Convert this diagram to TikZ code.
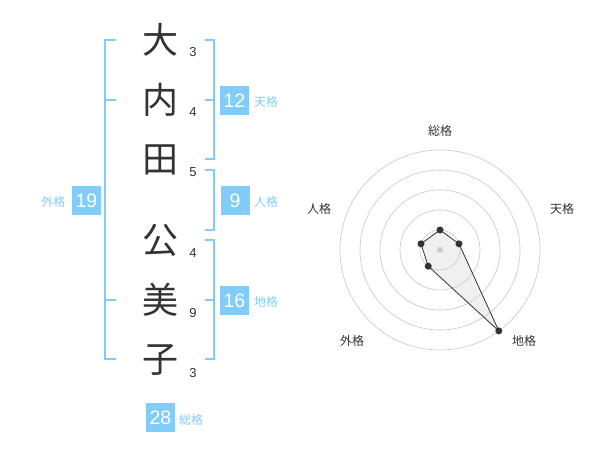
\documentclass[tikz,border=0pt]{standalone}
\usepackage{fontspec}
\setmainfont{Liberation Sans}
\newfontfamily\jpfont{Noto Sans CJK JP}
\definecolor{kblue}{RGB}{130,204,250}
\definecolor{kdark}{RGB}{51,51,51}
\definecolor{kgrid}{RGB}{204,204,204}
\begin{document}
\begin{tikzpicture}[x=1pt,y=-1pt,
  bigchar/.style={font=\jpfont\fontsize{36}{36}\selectfont, text=kdark, inner sep=0},
  stroke/.style={font=\fontsize{13}{13}\selectfont, text=kdark, inner sep=0},
  kbox/.style={fill=kblue, text=white, minimum width=29pt, minimum height=29pt, inner sep=0, font=\fontsize{19.5}{19.5}\selectfont},
  klabel/.style={text=kblue, inner sep=0, font=\jpfont\fontsize{12}{12}\selectfont},
  rlabel/.style={text=kdark, inner sep=0, font=\jpfont\fontsize{12}{12}\selectfont},
  brk/.style={draw=kblue, line width=2pt},
  ring/.style={draw=kgrid, line width=0.7pt},
  pt/.style={circle, fill=kdark, inner sep=0, minimum size=7pt}
]
\useasboundingbox (0,0) rectangle (600,470);
% name characters
\node[bigchar] (c1) at (160,40) {大};
\node[bigchar] (c2) at (160,100) {内};
\node[bigchar] (c3) at (160,160) {田};
\node[bigchar] (c4) at (160,240) {公};
\node[bigchar] (c5) at (160,300) {美};
\node[bigchar] (c6) at (160,360) {子};
% stroke counts
\node[stroke] (n1) at (193,52.5) {3};
\node[stroke] (n2) at (193,112) {4};
\node[stroke] (n3) at (193,172) {5};
\node[stroke] (n4) at (193,253) {4};
\node[stroke] (n5) at (193,313) {9};
\node[stroke] (n6) at (193,373) {3};
% brackets
\draw[brk] (116,40) -- (105,40) -- (105,359) -- (116,359);
\draw[brk] (105,100) -- (116,100);
\draw[brk] (105,300) -- (116,300);
\draw[brk] (205,40) -- (214,40) -- (214,159) -- (205,159);
\draw[brk] (214,100) -- (205,100);
\draw[brk] (205,170) -- (214,170) -- (214,230) -- (205,230);
\draw[brk] (205,240) -- (214,240) -- (214,359) -- (205,359);
\draw[brk] (214,300) -- (205,300);
% boxes and labels
\node[kbox] (b12) at (234.5,100.2) {12};
\node[klabel] (l12) at (266,102) {天格};
\node[kbox] (b9) at (235,200.5) {9};
\node[klabel] (l9) at (266,202) {人格};
\node[kbox] (b16) at (234.5,300.3) {16};
\node[klabel] (l16) at (266,302) {地格};
\node[kbox] (b19) at (86.5,200.5) {19};
\node[klabel] (l19) at (53.5,202) {外格};
\node[kbox] (b28) at (160.5,417.5) {28};
\node[klabel] (l28) at (191,419.5) {総格};
% radar chart
\coordinate (o) at (440,250);
\foreach \r in {20,40,60,80,100} \draw[ring] (o) circle[radius=\r];
\coordinate (p1) at (440,230);
\coordinate (p2) at (459,243.8);
\coordinate (p3) at (498.8,330.9);
\coordinate (p4) at (428.2,266.2);
\coordinate (p5) at (421,243.8);
\fill[kgrid, opacity=0.3] (p1) -- (p2) -- (p3) -- (p4) -- (p5) -- cycle;
\draw[kdark, line width=0.8pt, line join=round] (p1) -- (p2) -- (p3) -- (p4) -- (p5) -- cycle;
\fill[kgrid] (o) circle[radius=3.2];
\foreach \p in {p1,p2,p3,p4,p5} \node[pt] at (\p) {};
\node[rlabel] (r1) at (440,131) {総格};
\node[rlabel] (r2) at (562,209) {天格};
\node[rlabel] (r3) at (524,341) {地格};
\node[rlabel] (r4) at (352,341) {外格};
\node[rlabel] (r5) at (319,209) {人格};
\end{tikzpicture}
\end{document}
